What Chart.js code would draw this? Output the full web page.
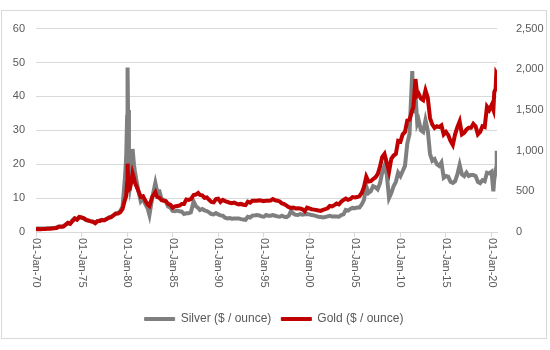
<!DOCTYPE html>
<html>
<head>
<meta charset="utf-8">
<script src="https://cdn.jsdelivr.net/npm/chart.js@4"></script>
<style>
  body { margin: 0; background: #fff; }
  #frame {
    position: absolute; left: 1px; top: 10px;
    width: 546px; height: 329px;
    border: 1px solid #d9d9d9; box-sizing: border-box;
  }
</style>
</head>
<body>
<div id="frame"><canvas id="myChart"></canvas></div>
<script>
// decimal years, then silver and gold prices at those dates
const dates = [
  1970.00, 1970.25, 1970.50, 1970.75,
  1971.00, 1971.25, 1971.50, 1971.75,
  1972.00, 1972.25, 1972.50, 1972.75,
  1973.00, 1973.25, 1973.50, 1973.75,
  1974.00, 1974.25, 1974.50, 1974.75,
  1975.00, 1975.25, 1975.50, 1975.75,
  1976.00, 1976.25, 1976.50, 1976.75,
  1977.00, 1977.25, 1977.50, 1977.75,
  1978.00, 1978.25, 1978.50, 1978.75,
  1979.00, 1979.25, 1979.50, 1979.75, 1979.90,
  1980.00, 1980.05, 1980.10, 1980.20, 1980.30, 1980.50, 1980.60, 1980.75, 1980.85,
  1981.00, 1981.25, 1981.50, 1981.75,
  1982.00, 1982.25, 1982.45, 1982.75,
  1983.10, 1983.30, 1983.55, 1983.80,
  1984.00, 1984.25, 1984.50, 1984.75,
  1985.00, 1985.25, 1985.50, 1985.75,
  1986.00, 1986.25, 1986.50, 1986.75,
  1987.00, 1987.30, 1987.55, 1987.80,
  1988.00, 1988.25, 1988.50, 1988.75,
  1989.00, 1989.25, 1989.50, 1989.75,
  1990.00, 1990.25, 1990.50, 1990.75,
  1991.00, 1991.25, 1991.50, 1991.75,
  1992.00, 1992.25, 1992.50, 1992.75,
  1993.00, 1993.25, 1993.50, 1993.75,
  1994.00, 1994.25, 1994.50, 1994.75,
  1995.00, 1995.25, 1995.50, 1995.75,
  1996.00, 1996.25, 1996.50, 1996.75,
  1997.00, 1997.25, 1997.50, 1997.75,
  1998.00, 1998.25, 1998.50, 1998.75,
  1999.00, 1999.25, 1999.50, 1999.75,
  2000.00, 2000.25, 2000.50, 2000.75,
  2001.00, 2001.25, 2001.50, 2001.75,
  2002.00, 2002.25, 2002.50, 2002.75,
  2003.00, 2003.25, 2003.50, 2003.75,
  2004.00, 2004.25, 2004.50, 2004.75,
  2005.00, 2005.25, 2005.50, 2005.75,
  2006.00, 2006.25, 2006.50, 2006.75,
  2007.00, 2007.25, 2007.50, 2007.75,
  2008.00, 2008.25, 2008.50, 2008.75,
  2009.00, 2009.25, 2009.50, 2009.75,
  2010.00, 2010.25, 2010.50, 2010.75,
  2011.00, 2011.30, 2011.42, 2011.65, 2011.85,
  2012.00, 2012.25, 2012.50, 2012.75,
  2013.00, 2013.25, 2013.50, 2013.75,
  2014.00, 2014.25, 2014.50, 2014.75,
  2015.00, 2015.25, 2015.50, 2015.75,
  2016.00, 2016.25, 2016.50, 2016.75,
  2017.00, 2017.25, 2017.50, 2017.75,
  2018.00, 2018.25, 2018.50, 2018.75,
  2019.00, 2019.25, 2019.50, 2019.75,
  2020.00, 2020.20, 2020.30, 2020.45, 2020.52, 2020.57
];

const silver = [
  1.0, 1.0, 1.0, 1.0,
  1.05, 1.1, 1.1, 1.15,
  1.2, 1.3, 1.6, 1.6,
  1.7, 2.2, 2.7, 2.5,
  3.5, 4.1, 3.7, 4.4,
  4.2, 4.0, 3.6, 3.4,
  3.2, 3.1, 2.8, 3.2,
  3.4, 3.6, 3.5, 3.8,
  4.3, 4.5, 4.9, 5.5,
  5.6, 6.2, 7.5, 15.5, 22,
  34, 48.5, 36, 15, 13, 16.5, 24.5, 20, 18,
  15.5, 12, 9, 9.8,
  8.2, 7, 5, 10,
  14.5, 12, 12, 9.5,
  9.5, 9, 7.5, 7.2,
  6.2, 6.1, 6.3, 6.1,
  6, 5.3, 5.5, 5.5,
  5.8, 9, 7.6, 7.1,
  6.5, 6.8, 6.4, 6.2,
  5.8, 5.3, 5.2, 5.6,
  5.2, 4.9, 4.8, 4.2,
  4.0, 4.1, 3.9, 4.0,
  4.0, 4.0, 3.8, 3.7,
  3.6, 4.5, 4.3, 4.8,
  4.9, 5.0, 4.9, 4.6,
  4.5, 5.0, 4.8, 4.8,
  5.0, 4.8, 4.6, 4.5,
  4.8, 4.5, 4.4, 4.8,
  6.3, 5.4, 5.1, 5.0,
  5.3, 5.1, 5.2, 5.3,
  5.2, 5.0, 4.9, 4.7,
  4.5, 4.4, 4.3, 4.4,
  4.6, 4.8, 4.6, 4.6,
  4.6, 4.5, 5.0, 5.2,
  6.5, 6.3, 6.8, 7.1,
  7.0, 7.2, 7.2, 8.1,
  9.5, 13.5, 11.5, 12,
  13.5, 13.2, 12.6, 14.3,
  17.5, 19.5, 17, 10,
  11.5, 13.5, 14.8, 17.5,
  16.5, 18, 19.5, 26,
  29, 47.5, 35, 41, 32,
  33, 30, 29.5, 33,
  30, 23, 21, 21.5,
  20, 19.5, 20.5, 16,
  16.5, 16.3, 14.8, 14.5,
  15, 17, 19.8, 17,
  16.5, 17.5, 16.5, 16.8,
  16.8, 16.5, 14.8, 14.4,
  15.3, 15, 17.5, 17.3,
  17.8, 12, 15.5, 18, 19, 24
];

const gold = [
  35, 36, 35, 37,
  38, 40, 41, 43,
  46, 49, 65, 64,
  67, 90, 112, 100,
  135, 165, 150, 185,
  180, 168, 148, 140,
  130, 125, 108, 132,
  136, 146, 145, 160,
  175, 182, 205, 225,
  226, 242, 285, 390, 440,
  600, 840, 660, 520, 530, 640, 720, 660, 610,
  570, 500, 430, 440,
  385, 340, 320, 430,
  490, 430, 420, 390,
  385, 380, 345, 335,
  300, 315, 320, 325,
  345, 345, 400, 395,
  405, 455, 460, 480,
  455, 450, 420, 425,
  395, 370, 365, 405,
  410, 370, 395, 380,
  370, 360, 355, 362,
  350, 340, 345, 335,
  330, 372, 360, 385,
  385, 385, 390, 385,
  378, 385, 385, 387,
  405, 390, 385, 375,
  350, 342, 325, 305,
  295, 300, 290, 292,
  288, 280, 256, 300,
  290, 280, 275, 270,
  265, 260, 272, 280,
  292, 320, 315, 330,
  350, 340, 372, 395,
  410, 395, 405, 430,
  425, 430, 440, 480,
  555, 680, 620, 625,
  650, 670, 710, 800,
  920, 960, 850, 740,
  900, 940, 960, 1120,
  1110, 1200, 1230, 1370,
  1380, 1500, 1530, 1880, 1680,
  1700, 1640, 1620, 1740,
  1650, 1400, 1320, 1280,
  1300, 1290, 1310, 1200,
  1230, 1190, 1120, 1070,
  1200, 1290, 1360, 1200,
  1220, 1260, 1280, 1280,
  1330, 1300, 1200, 1230,
  1300, 1290, 1540, 1500,
  1560, 1500, 1720, 1760, 1950, 1940
];

const xTicks = [1970, 1975, 1980, 1985, 1990, 1995, 2000, 2005, 2010, 2015, 2020];

Chart.defaults.font.family = '"Liberation Sans", Arial, sans-serif';
Chart.defaults.font.size = 11;
Chart.defaults.color = '#595959';

function tickLabel(year) {
  return '01-Jan-' + String(year % 100).padStart(2, '0');
}

// x labels run top-to-bottom, which chart.js can't rotate to on its own
const downLabels = {
  id: 'downLabels',
  afterDraw(chart) {
    const scale = chart.scales.x;
    const ctx = chart.ctx;
    ctx.save();
    ctx.font = '11px "Liberation Sans", Arial, sans-serif';
    ctx.fillStyle = '#595959';
    ctx.textAlign = 'left';
    ctx.textBaseline = 'middle';
    scale.ticks.forEach(t => {
      const x = scale.getPixelForValue(t.value);
      ctx.save();
      ctx.translate(x, scale.top + 6);
      ctx.rotate(Math.PI / 2);
      ctx.fillText(tickLabel(t.value), 0, 0);
      ctx.restore();
    });
    ctx.restore();
  }
};

const data = {
  datasets: [{
    label: 'Silver ($ / ounce)',
    data: dates.map((d, i) => ({ x: d, y: silver[i] })),
    borderColor: '#7f7f7f',
    backgroundColor: '#7f7f7f',
    borderWidth: 4,
    pointRadius: 0,
    yAxisID: 'y',
    order: 1
  }, {
    label: 'Gold ($ / ounce)',
    data: dates.map((d, i) => ({ x: d, y: gold[i] })),
    borderColor: '#c00000',
    backgroundColor: '#c00000',
    borderWidth: 4,
    pointRadius: 0,
    yAxisID: 'y1',
    order: 0
  }]
};

const config = {
  type: 'line',
  data,
  options: {
    responsive: true,
    maintainAspectRatio: false,
    animation: false,
    layout: { padding: { top: 16, bottom: 3, left: 0, right: 0 } },
    plugins: {
      tooltip: { enabled: false },
      legend: {
        position: 'bottom',
        labels: {
          font: { size: 12 },
          boxWidth: 30,
          boxHeight: 3,
          padding: 10,
          generateLabels(chart) {
            const items = Chart.defaults.plugins.legend.labels.generateLabels(chart);
            items.forEach(it => { it.lineWidth = 1; it.strokeStyle = it.fillStyle; });
            return items.sort((a, b) => a.datasetIndex - b.datasetIndex);
          }
        }
      }
    },
    scales: {
      x: {
        type: 'linear',
        min: 1970,
        max: 2020.6,
        afterBuildTicks(scale) { scale.ticks = xTicks.map(v => ({ value: v })); },
        afterFit(scale) { scale.height = 71; },
        ticks: { display: false, includeBounds: false },
        grid: { drawOnChartArea: false, drawTicks: true, tickLength: 5, color: '#d9d9d9' },
        border: { display: true, color: '#d9d9d9' }
      },
      y: {
        position: 'left',
        min: 0,
        max: 60,
        afterFit(scale) { scale.width = 34; },
        ticks: { stepSize: 10, padding: 11 },
        grid: { color: '#d9d9d9', drawTicks: false },
        border: { display: false }
      },
      y1: {
        position: 'right',
        min: 0,
        max: 2500,
        afterFit(scale) { scale.width = 49; },
        ticks: { stepSize: 500, padding: 11 },
        grid: { display: false },
        border: { display: false }
      }
    }
  },
  plugins: [downLabels]
};

const myChart = new Chart(document.getElementById('myChart'), config);
</script>
</body>
</html>
